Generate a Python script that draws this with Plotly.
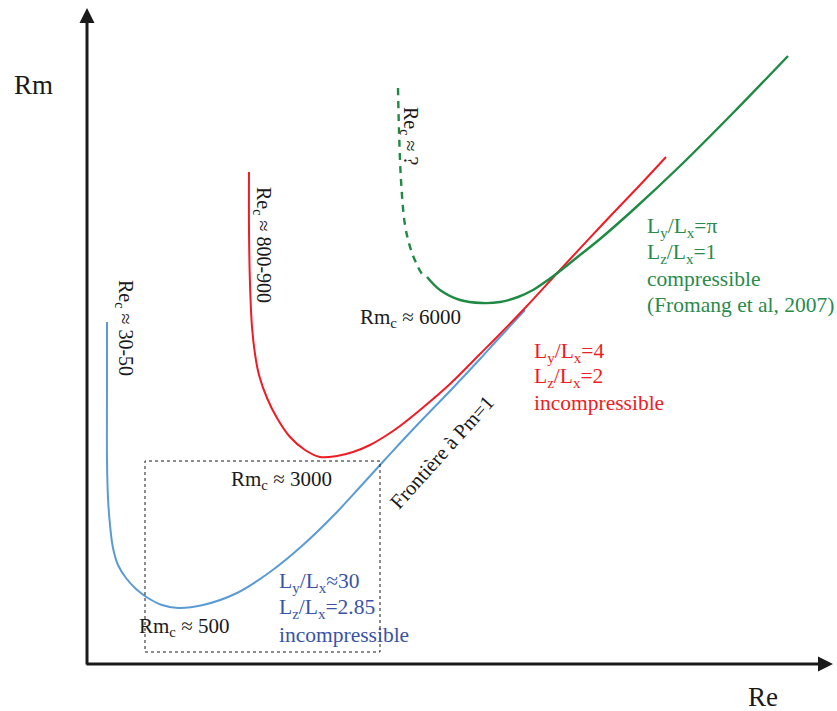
import plotly.graph_objects as go

# Schematic stability curves in the (Re, Rm) plane (arbitrary units, origin at the axes corner)
blue_re = [20, 20, 20, 21, 23, 26, 31, 39, 49, 61, 75, 91, 116, 150, 183, 216, 250, 273, 293, 316, 333, 363, 393, 413, 438]
blue_rm = [342, 274, 204, 166, 139, 116, 99, 86, 75, 66, 59, 56, 59, 71, 92, 119, 152, 177, 199, 224, 242, 273, 305, 327, 354]

red_re = [162, 162, 163, 165, 168, 172, 180, 190, 203, 218, 233, 250, 266, 283, 300, 313, 333, 363, 393, 410, 438, 473, 513, 553, 579]
red_rm = [492, 434, 380, 337, 310, 289, 266, 246, 227, 214, 207, 208, 212, 219, 229, 238, 254, 280, 310, 327, 356, 394, 437, 479, 507]

green_dash_re = [311, 312, 314, 318, 324, 331, 335]
green_dash_rm = [576, 534, 484, 439, 414, 397, 390]
green_re = [340, 353, 373, 395, 413, 431, 446, 461, 473, 493, 513, 546, 593, 646, 701]
green_rm = [387, 374, 364, 361, 362, 367, 374, 384, 393, 409, 425, 454, 498, 551, 608]

# Zoomed box around the low-Re minimum
box_re = [58, 293]
box_rm = [12, 203]

BLUE_LINE = "#5B9BD5"
BLUE_TEXT = "#3A53A6"
RED = "#EE1C25"
GREEN_LINE = "#1E8A44"
GREEN_TEXT = "#2A8A4C"
INK = "#1a1a1a"
FONT = "Liberation Serif, Times New Roman, serif"

fig = go.Figure()
spline = dict(shape="spline", smoothing=1.0)
fig.add_trace(go.Scatter(x=blue_re, y=blue_rm, mode="lines", line=dict(color=BLUE_LINE, width=2, **spline), hoverinfo="skip"))
fig.add_trace(go.Scatter(x=red_re, y=red_rm, mode="lines", line=dict(color=RED, width=2, **spline), hoverinfo="skip"))
fig.add_trace(go.Scatter(x=green_dash_re, y=green_dash_rm, mode="lines", line=dict(color=GREEN_LINE, width=2.4, dash="7px,6px", **spline), hoverinfo="skip"))
fig.add_trace(go.Scatter(x=green_re, y=green_rm, mode="lines", line=dict(color=GREEN_LINE, width=2.4, **spline), hoverinfo="skip"))

fig.add_shape(type="rect", x0=box_re[0], x1=box_re[1], y0=box_rm[0], y1=box_rm[1],
              line=dict(color=INK, width=1, dash="3px,3px"))

# Axes drawn as arrows
fig.add_annotation(x=746, y=0, ax=-2, ay=0, xref="x", yref="y", axref="x", ayref="y",
                   showarrow=True, arrowhead=2, arrowsize=1, arrowwidth=3, arrowcolor=INK, text="")
fig.add_annotation(x=0, y=656, ax=0, ay=-2, xref="x", yref="y", axref="x", ayref="y",
                   showarrow=True, arrowhead=2, arrowsize=1, arrowwidth=3, arrowcolor=INK, text="")


def label(x, y, text, color=INK, size=21, angle=0, xanchor="center"):
    fig.add_annotation(x=x, y=y, text=text, showarrow=False, textangle=angle,
                       xanchor=xanchor, yanchor="middle",
                       font=dict(family=FONT, size=size, color=color))


label(-54, 579, "Rm", size=27)
label(676, -33, "Re", size=27)

label(38, 336, "Re<sub>c</sub> ≈ 30-50", angle=90, size=20)
label(176, 419, "Re<sub>c</sub> ≈ 800-900", angle=90, size=20)
label(323, 528, "Re<sub>c</sub> ≈ ?", angle=90, size=20)

label(323, 346, "Rm<sub>c</sub> ≈ 6000")
label(194, 184, "Rm<sub>c</sub> ≈ 3000")
label(97, 37, "Rm<sub>c</sub> ≈ 500")

label(355, 212, "Frontière à Pm=1", angle=-48, size=20.5)

for i, t in enumerate(["L<sub>y</sub>/L<sub>x</sub>≈30", "L<sub>z</sub>/L<sub>x</sub>=2.85", "incompressible"]):
    label(190, 82 - 26.5 * i, t, color=BLUE_TEXT, xanchor="left", size=21.5)

for i, t in enumerate(["L<sub>y</sub>/L<sub>x</sub>=4", "L<sub>z</sub>/L<sub>x</sub>=2", "incompressible"]):
    label(445, 312 - 25.5 * i, t, color=RED, xanchor="left", size=21.5)

for i, t in enumerate(["L<sub>y</sub>/L<sub>x</sub>=π", "L<sub>z</sub>/L<sub>x</sub>=1", "compressible", "(Fromang et al, 2007)"]):
    label(558, 437 - 26 * i, t, color=GREEN_TEXT, xanchor="left", size=21.5)

fig.update_layout(
    width=837, height=711,
    margin=dict(l=0, r=0, t=0, b=0),
    paper_bgcolor="white", plot_bgcolor="white",
    showlegend=False,
    xaxis=dict(range=[-87, 750], visible=False, fixedrange=True),
    yaxis=dict(range=[-47, 664], visible=False, fixedrange=True),
)

fig.write_html("out.html")
